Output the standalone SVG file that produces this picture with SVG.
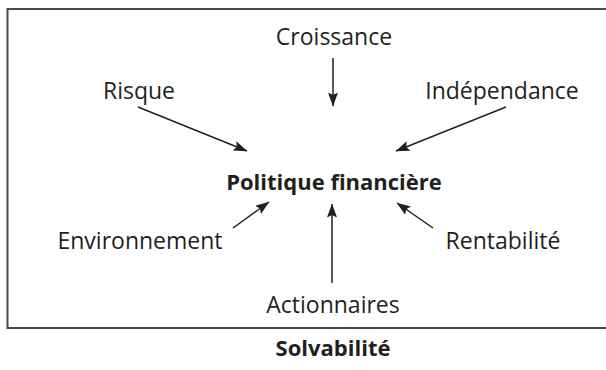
<svg xmlns="http://www.w3.org/2000/svg" width="606" height="370" viewBox="0 0 606 370">
<style>
.t{font-family:"Open Sans","Noto Sans","Liberation Sans",sans-serif;font-size:23px;fill:#231f20;text-anchor:middle}
.b{font-weight:bold;font-size:22px}
.c{stroke:#231f20;stroke-width:1.5;fill:none;marker-end:url(#ah)}
</style>
<defs>
<marker id="ah" markerUnits="userSpaceOnUse" markerWidth="14" markerHeight="10" refX="13.5" refY="5" orient="auto">
<path d="M0,0 L14,5 L0,10 L2.5,5 Z" fill="#231f20"/>
</marker>
</defs>
<rect x="7.5" y="9" width="620" height="319" fill="none" stroke="#4a4a4a" stroke-width="2"/>
<g id="connectors">
<line class="c" x1="333" y1="58" x2="333" y2="106"/>
<line class="c" x1="138" y1="107" x2="247" y2="151"/>
<line class="c" x1="506" y1="107" x2="396" y2="151"/>
<line class="c" x1="233" y1="228" x2="269" y2="202"/>
<line class="c" x1="332" y1="283" x2="332" y2="204"/>
<line class="c" x1="433" y1="228" x2="397" y2="203"/>
</g>
<g id="politique"><text class="t b" x="334" y="190">Politique financière</text></g>
<g id="croissance"><text class="t" x="334" y="45">Croissance</text></g>
<g id="risque"><text class="t" x="139" y="99">Risque</text></g>
<g id="independance"><text class="t" x="502" y="99">Indépendance</text></g>
<g id="environnement"><text class="t" x="140" y="249">Environnement</text></g>
<g id="rentabilite"><text class="t" x="503" y="249">Rentabilité</text></g>
<g id="actionnaires"><text class="t" x="333" y="313">Actionnaires</text></g>
<g id="solvabilite"><text class="t b" x="333" y="356">Solvabilité</text></g>
</svg>
